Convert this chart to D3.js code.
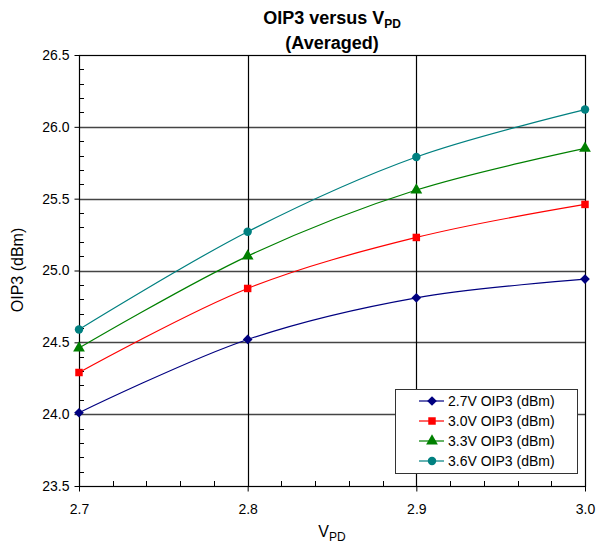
<!DOCTYPE html>
<html>
<head>
<meta charset="utf-8">
<script src="https://cdn.jsdelivr.net/npm/d3@7"></script>
<style>
    body { margin: 0; background: #fff; }
    svg { font-family: "Liberation Sans", Arial, sans-serif; }
</style>
</head>
<body>
<div id="plot-area"><svg></svg></div>
<script>
// data
const vpd = [2.7, 2.8, 2.9, 3.0];
const oip3_27 = [24.01, 24.52, 24.81, 24.94];
const oip3_30 = [24.29, 24.875, 25.23, 25.46];
const oip3_33 = [24.46, 25.10, 25.56, 25.85];
const oip3_36 = [24.59, 25.27, 25.79, 26.12];
const seriesNames = ['2.7V OIP3 (dBm)', '3.0V OIP3 (dBm)', '3.3V OIP3 (dBm)', '3.6V OIP3 (dBm)'];
const yTicks = [23.5, 24.0, 24.5, 25.0, 25.5, 26.0, 26.5];
const xTicks = [2.7, 2.8, 2.9, 3.0];

const colours = ['#000080', '#FF0000', '#008000', '#008080'];
const shapes = [d3.symbolDiamond2, d3.symbolSquare, d3.symbolTriangle, d3.symbolCircle];
const shapeSize = [60, 56, 60, 56];

// viewport
let margin = {top: 55, right: 13, bottom: 58, left: 79},
    width = 598 - margin.left - margin.right,
    height = 544 - margin.top - margin.bottom;

let x = d3.scaleLinear().domain([2.7, 3.0]).range([0, width]);
let y = d3.scaleLinear().domain([23.5, 26.5]).range([height, 0]);

let svg = d3.select('#plot-area').select('svg')
    .attr('width', 598)
    .attr('height', 544);

let g = svg.append('g')
    .attr('transform', 'translate(' + margin.left + ',' + margin.top + ')');

// horizontal gridlines
g.append('g')
    .selectAll('line')
    .data(yTicks.slice(1, -1))
    .enter().append('line')
    .attr('x1', 0).attr('x2', width)
    .attr('y1', d => Math.round(y(d)) + 0.5).attr('y2', d => Math.round(y(d)) + 0.5)
    .style('stroke', '#444')
    .style('stroke-width', 1.3);

// vertical gridlines
g.append('g')
    .selectAll('line')
    .data(xTicks.slice(1, -1))
    .enter().append('line')
    .attr('x1', d => Math.round(x(d)) + 0.5).attr('x2', d => Math.round(x(d)) + 0.5)
    .attr('y1', 0).attr('y2', height)
    .style('stroke', '#000')
    .style('stroke-width', 1.2);

// frame
g.append('rect')
    .attr('x', 0.5).attr('y', 0.5)
    .attr('width', width).attr('height', height)
    .style('fill', 'none')
    .style('stroke', '#000')
    .style('stroke-width', 1.2);

// Y axis
let yAxis = g.append('g')
    .attr('class', 'yaxis')
    .attr('transform', 'translate(0.5,0)')
    .call(d3.axisLeft(y).tickValues(yTicks).tickSize(5).tickPadding(5).tickFormat(d3.format('.1f')));
yAxis.select('.domain').remove();
yAxis.selectAll('text').style('font-size', '14px').style('fill', '#000');

// y minor ticks, inside
g.append('g')
    .selectAll('line')
    .data(d3.range(23.6, 26.5, 0.1).filter(v => Math.abs(v * 2 - Math.round(v * 2)) > 0.01))
    .enter().append('line')
    .attr('x1', 0).attr('x2', 5)
    .attr('y1', d => Math.round(y(d)) + 0.5).attr('y2', d => Math.round(y(d)) + 0.5)
    .style('stroke', '#000');

// X axis
let xAxis = g.append('g')
    .attr('class', 'xaxis')
    .attr('transform', 'translate(0,' + (height + 0.5) + ')')
    .call(d3.axisBottom(x).tickValues(xTicks).tickSize(5).tickPadding(13).tickFormat(d3.format('.1f')));
xAxis.select('.domain').remove();
xAxis.selectAll('text').style('font-size', '14px').style('fill', '#000');

// x minor ticks, inside
g.append('g')
    .selectAll('line')
    .data(d3.range(0, 15).map(i => 2.7 + i * 0.02).filter((v, i) => i % 5 !== 0))
    .enter().append('line')
    .attr('x1', d => Math.round(x(d)) + 0.5).attr('x2', d => Math.round(x(d)) + 0.5)
    .attr('y1', height).attr('y2', height - 5)
    .style('stroke', '#000');

// lines and markers
const valueline = d3.line()
    .x(d => x(d.xValue))
    .y(d => y(d.yValue))
    .curve(d3.curveCatmullRom.alpha(0.5));

const allSeries = [oip3_27, oip3_30, oip3_33, oip3_36].map(vals =>
    vpd.map((v, i) => ({xValue: v, yValue: vals[i]})));

allSeries.forEach(function (data, k) {
    g.append('path')
        .datum(data)
        .style('fill', 'none')
        .style('stroke', colours[k])
        .style('stroke-width', 1.2)
        .attr('d', valueline);

    g.append('g')
        .selectAll('path')
        .data(data)
        .enter().append('path')
        .attr('transform', d => 'translate(' + x(d.xValue) + ',' + y(d.yValue) + ')')
        .attr('d', d3.symbol().type(shapes[k]).size(shapeSize[k]))
        .style('fill', colours[k]);
});

// legend
let lg = svg.append('g').attr('transform', 'translate(395,389)');
lg.append('rect')
    .attr('x', 0.5).attr('y', 0.5)
    .attr('width', 182).attr('height', 84)
    .style('fill', '#fff')
    .style('stroke', '#333')
    .style('stroke-width', 1);

let legend = lg.selectAll('.legend')
    .data(seriesNames)
    .enter().append('g')
    .attr('class', 'legend')
    .attr('transform', (d, i) => 'translate(0,' + (12 + i * 20) + ')');

legend.append('line')
    .attr('x1', 24).attr('x2', 49)
    .attr('y1', 0).attr('y2', 0)
    .style('stroke', (d, i) => colours[i])
    .style('stroke-width', 1.2);

legend.append('path')
    .attr('transform', 'translate(37,0)')
    .attr('d', (d, i) => d3.symbol().type(shapes[i]).size(shapeSize[i])())
    .style('fill', (d, i) => colours[i]);

legend.append('text')
    .attr('x', 53)
    .attr('y', 5)
    .style('font-size', '14px')
    .text(d => d);

// title
let title = svg.append('text')
    .attr('x', 332).attr('y', 24)
    .attr('text-anchor', 'middle')
    .style('font-size', '18px')
    .style('font-weight', 'bold');
title.append('tspan').text('OIP3 versus V');
title.append('tspan').attr('dy', 4).style('font-size', '12px').text('PD');

svg.append('text')
    .attr('x', 332).attr('y', 49)
    .attr('text-anchor', 'middle')
    .style('font-size', '18px')
    .style('font-weight', 'bold')
    .text('(Averaged)');

// axis labels
let xl = svg.append('text')
    .attr('x', 332).attr('y', 537)
    .attr('text-anchor', 'middle')
    .style('font-size', '16px');
xl.append('tspan').text('V');
xl.append('tspan').attr('dy', 4).style('font-size', '12px').text('PD');

svg.append('text')
    .attr('transform', 'translate(23,270) rotate(-90)')
    .attr('text-anchor', 'middle')
    .style('font-size', '16px')
    .text('OIP3 (dBm)');
</script>
</body>
</html>
